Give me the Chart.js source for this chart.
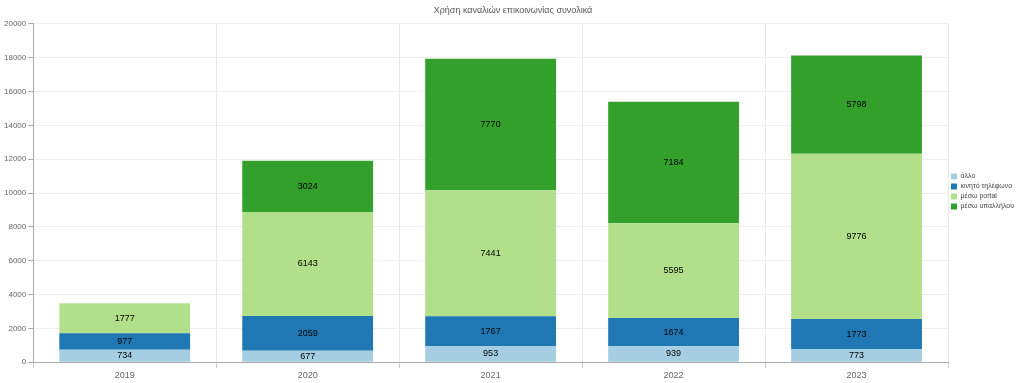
<!DOCTYPE html>
<html>
<head>
<meta charset="utf-8">
<script src="https://cdn.jsdelivr.net/npm/chart.js@4/dist/chart.umd.min.js"></script>
<style>
  html, body { margin: 0; padding: 0; background: #fff; }
  #wrap { width: 1024px; height: 383px; position: relative; }
</style>
</head>
<body>
<div id="wrap"><canvas id="chart"></canvas></div>
<script>
// categories and series
var years = ['2019', '2020', '2021', '2022', '2023'];
var allo = [734, 677, 953, 939, 773];
var kinito = [977, 2059, 1767, 1674, 1773];
var portal = [1777, 6143, 7441, 5595, 9776];
var ypallilou = [0, 3024, 7770, 7184, 5798];
var seriesNames = ['άλλο', 'κινητό τηλέφωνο', 'μέσω portal', 'μέσω υπαλλήλου'];
var colors = ['#a6cee3', '#1f78b4', '#b2df8a', '#33a02c'];

// draws the value in the middle of each bar piece
var barLabels = {
    id: 'barLabels',
    afterDatasetsDraw: function(chart) {
        var ctx = chart.ctx;
        ctx.save();
        ctx.font = '9px Arial, "Liberation Sans", sans-serif';
        ctx.fillStyle = '#000';
        ctx.textAlign = 'center';
        ctx.textBaseline = 'middle';
        chart.data.datasets.forEach(function(ds, i) {
            var meta = chart.getDatasetMeta(i);
            meta.data.forEach(function(bar, j) {
                var v = ds.data[j];
                if (!v) return;
                ctx.fillText(v, bar.x, (bar.y + bar.base) / 2);
            });
        });
        ctx.restore();
    }
};

var ctx = document.getElementById('chart').getContext('2d');
var chart = new Chart(ctx, {
    type: 'bar',
    data: {
        labels: years,
        datasets: [
            { label: seriesNames[0], data: allo, backgroundColor: colors[0] },
            { label: seriesNames[1], data: kinito, backgroundColor: colors[1] },
            { label: seriesNames[2], data: portal, backgroundColor: colors[2] },
            { label: seriesNames[3], data: ypallilou, backgroundColor: colors[3] }
        ]
    },
    options: {
        responsive: true,
        maintainAspectRatio: false,
        animation: false,
        devicePixelRatio: 1,
        layout: { padding: { left: 2, right: 0, top: 0, bottom: 0 } },
        datasets: { bar: { barPercentage: 0.715, categoryPercentage: 1 } },
        plugins: {
            title: {
                display: true,
                text: 'Χρήση καναλιών επικοινωνίας συνολικά',
                color: '#555',
                font: { family: 'Arial, "Liberation Sans", sans-serif', size: 9, weight: 'normal' },
                padding: { top: 5, bottom: 8 }
            },
            legend: {
                position: 'right',
                labels: {
                    boxWidth: 6,
                    boxHeight: 6,
                    padding: 3,
                    color: '#444',
                    font: { family: 'Arial, "Liberation Sans", sans-serif', size: 7 }
                }
            },
            tooltip: { enabled: false }
        },
        scales: {
            x: {
                stacked: true,
                offset: true,
                grid: { color: '#e8e8e8', tickColor: '#ccc', tickLength: 6, offset: true },
                border: { color: '#aaa' },
                ticks: { color: '#666', padding: 2, font: { family: 'Arial, "Liberation Sans", sans-serif', size: 9 } }
            },
            y: {
                stacked: true,
                min: 0,
                max: 20000,
                grid: { color: '#eeeeee', tickColor: '#aaa', tickLength: 5 },
                border: { color: '#aaa' },
                ticks: {
                    stepSize: 2000,
                    color: '#666',
                    padding: 2,
                    font: { family: 'Arial, "Liberation Sans", sans-serif', size: 8 },
                    callback: function(v) { return String(v); }
                }
            }
        }
    },
    plugins: [barLabels]
});
</script>
</body>
</html>
